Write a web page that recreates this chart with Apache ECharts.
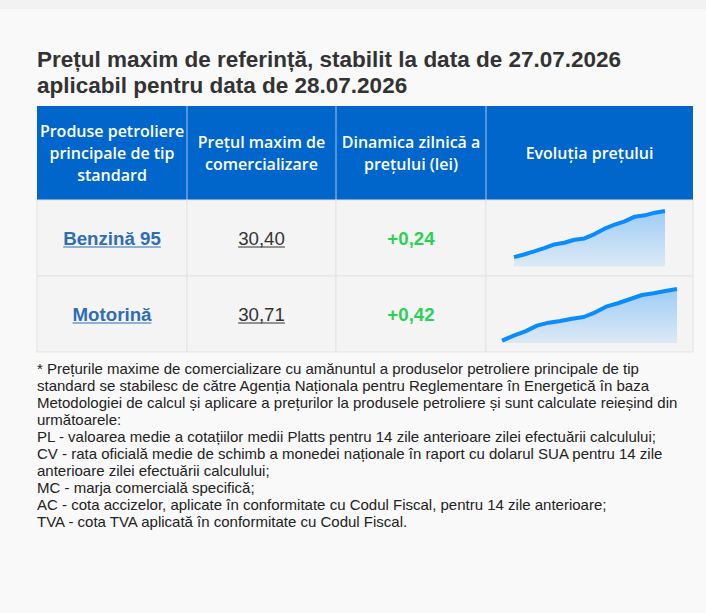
<!DOCTYPE html>
<html>
<head>
<meta charset="utf-8">
<script src="https://cdn.jsdelivr.net/npm/echarts@6/dist/echarts.min.js"></script>
<style>
html, body { margin: 0; padding: 0; background: #f9f9f9; }
#main { width: 706px; height: 613px; }
</style>
</head>
<body>
<div id="main"></div>
<script>
// date din tabel
var titleLines = [
    'Prețul maxim de referință, stabilit la data de 27.07.2026',
    'aplicabil pentru data de 28.07.2026'
];
var headers = [
    'Produse petroliere\nprincipale de tip\nstandard',
    'Prețul maxim de\ncomercializare',
    'Dinamica zilnică a\nprețului (lei)',
    'Evoluția prețului'
];
var products = ['Benzină 95', 'Motorină'];
var maxPrices = [30.40, 30.71];
var dailyChange = [0.24, 0.42];
// evolutia pretului (ultimele zile)
var trendBenzina = [29.02, 29.10, 29.19, 29.29, 29.40, 29.45, 29.54, 29.58,
    29.71, 29.87, 29.99, 30.09, 30.23, 30.27, 30.35, 30.40];
var trendMotorina = [29.16, 29.31, 29.44, 29.61, 29.70, 29.75, 29.82, 29.87,
    30.01, 30.19, 30.29, 30.41, 30.53, 30.58, 30.65, 30.71];
var trendMin = [28.74, 29.09];
var notes = [
    '* Prețurile maxime de comercializare cu amănuntul a produselor petroliere principale de tip',
    'standard se stabilesc de către Agenția Naționala pentru Reglementare în Energetică în baza',
    'Metodologiei de calcul și aplicare a prețurilor la produsele petroliere și sunt calculate reieșind din',
    'următoarele:',
    'PL - valoarea medie a cotațiilor medii Platts pentru 14 zile anterioare zilei efectuării calculului;',
    'CV - rata oficială medie de schimb a monedei naționale în raport cu dolarul SUA pentru 14 zile',
    'anterioare zilei efectuării calculului;',
    'MC - marja comercială specifică;',
    'AC - cota accizelor, aplicate în conformitate cu Codul Fiscal, pentru 14 zile anterioare;',
    'TVA - cota TVA aplicată în conformitate cu Codul Fiscal.'
];

var colX = [37, 187, 336, 486, 693];
var rowY = [106, 200, 276, 352];
var cellFont = '"Liberation Sans", Arial, sans-serif';

var measureCtx = document.createElement('canvas').getContext('2d');
function textWidth(str, font) {
    measureCtx.font = font;
    return measureCtx.measureText(str).width;
}
function fmt(v) {
    return v.toFixed(2).replace('.', ',');
}

var graphics = [];
graphics.push({type: 'rect', shape: {x: 0, y: 0, width: 706, height: 9}, style: {fill: '#f2f2f2'}, silent: true});

titleLines.forEach(function (line, i) {
    graphics.push({
        type: 'text', x: 37, y: 59 + i * 26,
        style: {text: line, fill: '#333', font: 'bold 22.5px ' + cellFont, verticalAlign: 'middle'}
    });
});

// antet
graphics.push({
    type: 'rect', shape: {x: colX[0], y: rowY[0], width: colX[4] - colX[0], height: rowY[1] - rowY[0]},
    style: {fill: '#0066cc'}
});
for (var c = 1; c < 4; c++) {
    graphics.push({
        type: 'line', shape: {x1: colX[c], y1: rowY[0], x2: colX[c], y2: rowY[1]},
        style: {stroke: '#6ea6e6', lineWidth: 1.5}
    });
}
headers.forEach(function (h, i) {
    graphics.push({
        type: 'text', x: (colX[i] + colX[i + 1]) / 2, y: (rowY[0] + rowY[1]) / 2,
        style: {
            text: h, fill: '#fff', fontFamily: '"Open Sans", sans-serif', fontWeight: 600,
            fontSize: 16, lineHeight: 22, align: 'center', verticalAlign: 'middle'
        }
    });
});

// randuri
products.forEach(function (p, r) {
    for (var c = 0; c < 4; c++) {
        graphics.push({
            type: 'rect',
            shape: {x: colX[c], y: rowY[r + 1], width: colX[c + 1] - colX[c], height: rowY[r + 2] - rowY[r + 1]},
            style: {fill: '#f4f4f4', stroke: '#e3e3e3', lineWidth: 1}
        });
    }
    var cy = (rowY[r + 1] + rowY[r + 2]) / 2;
    var cells = [
        {text: p, fill: '#2f6db5', weight: 'bold', underline: true},
        {text: fmt(maxPrices[r]), fill: '#333', weight: 'normal', underline: true},
        {text: '+' + fmt(dailyChange[r]), fill: '#2bd157', weight: 'bold', underline: false}
    ];
    cells.forEach(function (cell, c) {
        var cx = (colX[c] + colX[c + 1]) / 2;
        var font = cell.weight + ' 18.7px ' + cellFont;
        graphics.push({
            type: 'text', x: cx, y: cy,
            style: {text: cell.text, fill: cell.fill, font: font, align: 'center', verticalAlign: 'middle'}
        });
        if (cell.underline) {
            var w = textWidth(cell.text, font);
            graphics.push({
                type: 'line', shape: {x1: cx - w / 2, y1: cy + 9, x2: cx + w / 2, y2: cy + 9},
                style: {stroke: cell.fill, lineWidth: 1.2}
            });
        }
    });
});

notes.forEach(function (line, i) {
    graphics.push({
        type: 'text', x: 37, y: 368 + i * 17,
        style: {text: line, fill: '#222', font: '15px ' + cellFont, verticalAlign: 'middle'}
    });
});

var trends = [trendBenzina, trendMotorina];
var grids = [
    {left: 514, top: 211, width: 151, height: 55.5},
    {left: 502, top: 289, width: 175, height: 54}
];
var option = {
    backgroundColor: '#f9f9f9',
    animation: false,
    grid: grids,
    xAxis: trends.map(function (t, i) {
        return {
            type: 'category', gridIndex: i, show: false, boundaryGap: false,
            data: t.map(function (v, k) { return k + 1; })
        };
    }),
    yAxis: trends.map(function (t, i) {
        return {type: 'value', gridIndex: i, show: false, min: trendMin[i], max: 'dataMax'};
    }),
    series: trends.map(function (t, i) {
        return {
            type: 'line', xAxisIndex: i, yAxisIndex: i, data: t, symbol: 'none',
            lineStyle: {color: '#0a8cff', width: 4},
            areaStyle: {
                color: new echarts.graphic.LinearGradient(0, 0, 0, 1, [
                    {offset: 0, color: 'rgba(20,140,250,0.55)'},
                    {offset: 1, color: 'rgba(20,140,250,0.15)'}
                ])
            },
            z: 10
        };
    }),
    graphic: {elements: graphics}
};

var myChart = echarts.init(document.getElementById('main'), null, {renderer: 'svg'});
myChart.setOption(option);
</script>
</body>
</html>
